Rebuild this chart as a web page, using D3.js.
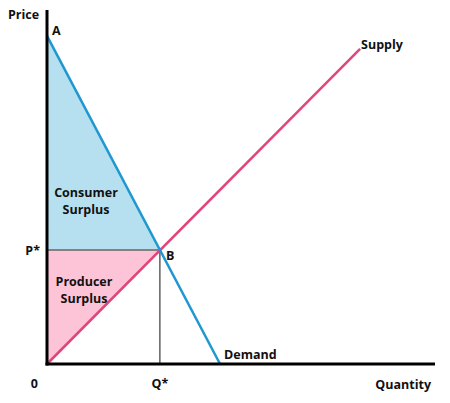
<!DOCTYPE html>
<meta charset="utf-8">
<title>Consumer and producer surplus</title>
<style>
*{ margin: 0; padding: 0; }
body{ background: #fff; }
svg text{
  font-family: "Open Sans", sans-serif;
  font-weight: bold;
  font-size: 12.5px;
  fill: #111;
}
</style>
<body>
<script src="https://d3js.org/d3.v7.min.js"></script>
<div id="chart"></div>
<script>

var width = 450,
    height = 403;

// quantity / price in arbitrary units (0-100)
var demandPts = [[0, 92.7], [44.6, 0]];
var supplyPts = [[0, 0], [80.7, 89]];
var equilibrium = [29.1, 32.2];
var pointLabels = ["A", "B"];
var curveLabels = ["Demand", "Supply"];
var tickLabels = ["0", "P*", "Q*"];
var axisTitles = ["Price", "Quantity"];
var surplusLabels = [["Consumer", "Surplus"], ["Producer", "Surplus"]];

var x = d3.scaleLinear().domain([0, 100]).range([47, 435]);
var y = d3.scaleLinear().domain([0, 100]).range([364, 10]);

var svg = d3.select("#chart").append("svg")
    .attr("width", width)
    .attr("height", height);

var line = d3.line()
    .x(function(d){ return x(d[0]); })
    .y(function(d){ return y(d[1]); });

var eq = equilibrium;

// consumer surplus (blue triangle)
svg.append("path")
  .attr("d", line([[0, demandPts[0][1]], eq, [0, eq[1]]]) + "Z")
  .attr("fill", "#b6e0ef");

// producer surplus (pink triangle)
svg.append("path")
  .attr("d", line([[0, 0], eq, [0, eq[1]]]) + "Z")
  .attr("fill", "#fcc4d6");

// P* and Q* guide lines
svg.append("path")
  .attr("d", line([[0, eq[1]], eq]))
  .attr("stroke", "#666")
  .attr("stroke-width", 1.5)
  .attr("fill", "none");

svg.append("path")
  .attr("d", line([eq, [eq[0], 0]]))
  .attr("stroke", "#111")
  .attr("stroke-width", 1)
  .attr("fill", "none");

// curves
svg.append("path")
  .attr("d", line(supplyPts))
  .attr("stroke", "#e0457c")
  .attr("stroke-width", 2.5)
  .attr("fill", "none");

svg.append("path")
  .attr("d", line(demandPts))
  .attr("stroke", "#1f97d0")
  .attr("stroke-width", 2.5)
  .attr("fill", "none");

// axes
svg.append("line")
  .attr("x1", x(0)).attr("x2", x(0))
  .attr("y1", y(100)).attr("y2", y(0) + 1.5)
  .attr("stroke", "#000").attr("stroke-width", 3);

svg.append("line")
  .attr("x1", x(0) - 1.5).attr("x2", x(100))
  .attr("y1", y(0)).attr("y2", y(0))
  .attr("stroke", "#000").attr("stroke-width", 3);

// labels
svg.append("text").attr("x", 8).attr("y", 19).text(axisTitles[0]);
svg.append("text").attr("x", 431).attr("y", 389).attr("text-anchor", "end").text(axisTitles[1]);

svg.append("text").attr("x", x(0) + 5).attr("y", y(demandPts[0][1]) - 1).text(pointLabels[0]);
svg.append("text").attr("x", x(eq[0]) + 6).attr("y", y(eq[1]) + 10).text(pointLabels[1]);

svg.append("text").attr("x", x(demandPts[1][0]) + 4).attr("y", y(0) - 5).text(curveLabels[0]);
svg.append("text").attr("x", x(supplyPts[1][0]) + 1).attr("y", y(supplyPts[1][1]) + 0).text(curveLabels[1]);

svg.append("text").attr("x", 38).attr("y", 388).attr("text-anchor", "end").text(tickLabels[0]);
svg.append("text").attr("x", 40).attr("y", y(eq[1]) + 5).attr("text-anchor", "end").text(tickLabels[1]);
svg.append("text").attr("x", x(eq[0])).attr("y", 388).attr("text-anchor", "middle").text(tickLabels[2]);

var surplusPos = [[86, 197], [84, 286]];
surplusLabels.forEach(function(lines, i){
  var t = svg.append("text")
    .attr("x", surplusPos[i][0])
    .attr("y", surplusPos[i][1])
    .attr("text-anchor", "middle");
  lines.forEach(function(s, j){
    t.append("tspan")
      .attr("x", surplusPos[i][0])
      .attr("dy", j ? 17 : 0)
      .text(s);
  });
});

</script>
</body>
</html>
